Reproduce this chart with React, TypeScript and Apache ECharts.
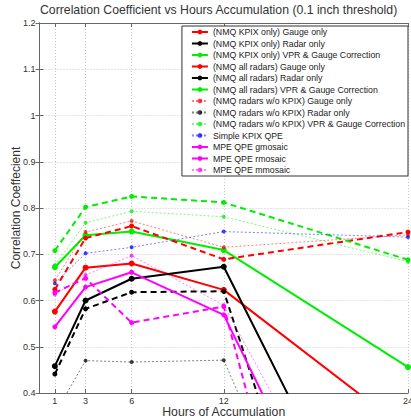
import React, { useEffect, useRef } from "react";
import * as echarts from "echarts";

const hours = [1, 3, 6, 12, 24];
const tickHours = [1, 3, 6, 12, 24];

const kpixGauge = [0.576, 0.671, 0.68, 0.623, 0.317];
const kpixRadar = [0.458, 0.6, 0.647, 0.673, -0.12];
const kpixVpr = [0.672, 0.741, 0.749, 0.709, 0.456];
const allGauge = [0.624, 0.735, 0.761, 0.689, 0.748];
const allRadar = [0.441, 0.582, 0.618, 0.62, -0.6];
const allVpr = [0.708, 0.802, 0.825, 0.812, 0.688];
const woGauge = [0.644, 0.748, 0.772, 0.715, 0.742];
const woRadar = [0.355, 0.47, 0.467, 0.471, -0.44];
const woVpr = [0.676, 0.768, 0.793, 0.781, 0.684];
const simpleKpix = [0.637, 0.702, 0.715, 0.749, 0.737];
const mpeG = [0.543, 0.629, 0.661, 0.569, -0.244];
const mpeR = [0.617, 0.648, 0.552, 0.587, -0.9];
const mpeM = [0.613, 0.655, 0.697, 0.59, -0.143];

const seriesDefs = [
  { name: "(NMQ KPIX only) Gauge only", data: kpixGauge, color: "#ff0000", kind: "solid" },
  { name: "(NMQ KPIX only) Radar only", data: kpixRadar, color: "#000000", kind: "solid" },
  { name: "(NMQ KPIX only) VPR & Gauge Correction", data: kpixVpr, color: "#00ee00", kind: "solid" },
  { name: "(NMQ all radars) Gauge only", data: allGauge, color: "#ff0000", kind: "dashed" },
  { name: "(NMQ all radars) Radar only", data: allRadar, color: "#000000", kind: "dashed" },
  { name: "(NMQ all radars) VPR & Gauge Correction", data: allVpr, color: "#00ee00", kind: "dashed" },
  { name: "(NMQ radars w/o KPIX) Gauge only", data: woGauge, color: "#ff0000", kind: "dotted" },
  { name: "(NMQ radars w/o KPIX) Radar only", data: woRadar, color: "#000000", kind: "dotted" },
  { name: "(NMQ radars w/o KPIX) VPR & Gauge Correction", data: woVpr, color: "#00ee00", kind: "dotted" },
  { name: "Simple KPIX QPE", data: simpleKpix, color: "#0000ff", kind: "dotted" },
  { name: "MPE QPE gmosaic", data: mpeG, color: "#ff00ff", kind: "solid" },
  { name: "MPE QPE rmosaic", data: mpeR, color: "#ff00ff", kind: "dashed" },
  { name: "MPE QPE mmosaic", data: mpeM, color: "#ff00ff", kind: "dotted" },
];

const FONT = "Liberation Sans, Arial, sans-serif";

export default function App() {
  const ref = useRef<HTMLDivElement>(null);
  useEffect(() => {
    document.body.style.margin = "0";
    const chart = echarts.init(ref.current!, null, { renderer: "svg" });
    const series = seriesDefs.map((s) => {
      const isDotted = s.kind === "dotted";
      const isKpix = s.name.startsWith("(NMQ KPIX");
      return {
        name: s.name,
        type: "line",
        data: hours.map((h, i) => [h, s.data[i]]),
        clip: true,
        symbol: "circle",
        symbolSize: isDotted ? 4 : isKpix ? 6 : 5,
        itemStyle: { color: s.color, opacity: isDotted ? 0.75 : 1 },
        lineStyle: {
          color: s.color,
          width: isDotted ? 1 : 2,
          type: s.kind === "dashed" ? [6, 4] : s.kind === "dotted" ? [2, 2] : "solid",
          opacity: isDotted ? 0.5 : 1,
        },
        emphasis: { disabled: true },
      };
    });
    const axisLineStyle = { color: "#666", width: 1 };
    chart.setOption({
      animation: false,
      backgroundColor: "#ffffff",
      title: {
        text: "Correlation Coefficient vs Hours Accumulation (0.1 inch threshold)",
        left: 40,
        top: 4,
        padding: 0,
        textStyle: { fontFamily: FONT, fontSize: 12.25, fontWeight: "normal", color: "#333" },
      },
      grid: { left: 39.5, right: 3, top: 23, bottom: 26, outerBoundsMode: "none", containLabel: false },
      legend: {
        orient: "vertical",
        right: 3,
        top: 26,
        backgroundColor: "#ffffff",
        borderColor: "#333",
        borderWidth: 1,
        borderRadius: 0,
        padding: [1, 3, 1, 9],
        itemGap: 1.5,
        itemWidth: 16,
        itemHeight: 6,
        textStyle: { fontFamily: FONT, fontSize: 8.75, color: "#222", lineHeight: 10 },
        data: seriesDefs.map((s) => s.name),
      },
      xAxis: [
        {
          type: "value",
          min: 0,
          max: 24,
          position: "bottom",
          name: "Hours of Accumulation",
          nameLocation: "middle",
          nameGap: 12.5,
          nameMoveOverlap: false,
          nameTextStyle: { fontFamily: FONT, fontSize: 12.3, lineHeight: 13, color: "#333" },
          axisLine: { show: true, lineStyle: axisLineStyle },
          axisTick: { show: true, inside: true, length: 4, customValues: tickHours, lineStyle: axisLineStyle },
          axisLabel: {
            customValues: tickHours,
            fontFamily: FONT,
            fontSize: 9,
            lineHeight: 10,
            color: "#333",
            margin: 2.5,
          },
          splitLine: { show: true, lineStyle: { type: [1, 2], color: "#c8c8c8" } },
        },
        {
          type: "value",
          min: 0,
          max: 24,
          position: "top",
          axisLine: { show: true, lineStyle: axisLineStyle },
          axisTick: { show: true, inside: true, length: 4, customValues: tickHours, lineStyle: axisLineStyle },
          axisLabel: { show: false, customValues: tickHours },
          splitLine: { show: false },
        },
      ],
      yAxis: [
        {
          type: "value",
          min: 0.4,
          max: 1.2,
          interval: 0.1,
          name: "Correlation Coeffecient",
          nameLocation: "middle",
          nameGap: 18,
          nameMoveOverlap: false,
          nameTextStyle: { fontFamily: FONT, fontSize: 12, color: "#333" },
          axisLine: { show: true, lineStyle: axisLineStyle },
          axisTick: { show: true, inside: true, length: 4, lineStyle: axisLineStyle },
          axisLabel: {
            fontFamily: FONT,
            fontSize: 9,
            color: "#333",
            margin: 4,
            formatter: (v: number) => String(Math.round(v * 10) / 10),
          },
          splitLine: { show: true, lineStyle: { type: [1, 2], color: "#c8c8c8" } },
        },
        {
          type: "value",
          min: 0.4,
          max: 1.2,
          interval: 0.1,
          position: "right",
          axisLine: { show: true, lineStyle: axisLineStyle },
          axisTick: { show: true, inside: true, length: 4, lineStyle: axisLineStyle },
          axisLabel: { show: false },
          splitLine: { show: false },
        },
      ],
      series,
    });
    return () => chart.dispose();
  }, []);
  return (
    <div
      ref={ref}
      style={{ position: "fixed", left: 0, top: 0, width: 411, height: 419, background: "#fff" }}
    />
  );
}
